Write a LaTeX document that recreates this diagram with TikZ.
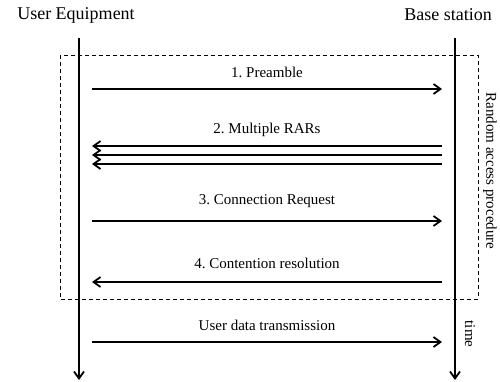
\documentclass[tikz,border=0pt]{standalone}
\usepackage{fontspec}
\setmainfont{Liberation Serif}
\usetikzlibrary{arrows.meta}
\frenchspacing
\begin{document}
\begin{tikzpicture}[x=1pt,y=-1pt,
  tip/.style={-{Straight Barb[length=7pt,width=10pt,line width=1.8pt]}},
  life/.style={line width=2pt,tip},
  msg/.style={line width=2pt,tip},
  lbl/.style={font=\fontsize{15}{17}\selectfont,inner sep=0pt},
  ttl/.style={font=\fontsize{18}{20}\selectfont,inner sep=0pt}]
\useasboundingbox (0,0) rectangle (500,381);
% titles
\node[ttl] (ue) at (76,15) {User Equipment};
\node[ttl] (bs) at (448,15) {Base station};
% lifeline endpoints
\coordinate (uetop) at (79,38);
\coordinate (uebot) at (79,380);
\coordinate (bstop) at (455,38);
\coordinate (bsbot) at (455,380);
% dashed box
\draw[line width=0.7pt,dash pattern=on 4pt off 3pt] (60,55) rectangle (478,299);
\draw[life] (uetop) -- (uebot);
\draw[life] (bstop) -- (bsbot);
% message endpoints
\coordinate (l1) at (92,89);  \coordinate (r1) at (442,89);
\coordinate (l2a) at (92,146); \coordinate (r2a) at (442,146);
\coordinate (l2b) at (92,155); \coordinate (r2b) at (442,155);
\coordinate (l2c) at (92,164); \coordinate (r2c) at (442,164);
\coordinate (l3) at (92,221); \coordinate (r3) at (442,221);
\coordinate (l4) at (92,282); \coordinate (r4) at (442,282);
\coordinate (l5) at (92,342); \coordinate (r5) at (442,342);
\draw[msg] (l1) -- (r1);
\draw[msg] (r2a) -- (l2a);
\draw[msg] (r2b) -- (l2b);
\draw[msg] (r2c) -- (l2c);
\draw[msg] (l3) -- (r3);
\draw[msg] (r4) -- (l4);
\draw[msg] (l5) -- (r5);
% labels
\node[lbl] (t1) at (267,72) {1. Preamble};
\node[lbl] (t2) at (267,130) {2. Multiple RARs};
\node[lbl] (t3) at (267,201) {3. Connection Request};
\node[lbl] (t4) at (267,263) {4. Contention resolution};
\node[lbl] (t5) at (267,325) {User data transmission};
\node[lbl,rotate=-90] (rap) at (490,171) {Random access procedure};
\node[lbl,rotate=-90] (time) at (470,334) {time};
\end{tikzpicture}
\end{document}
